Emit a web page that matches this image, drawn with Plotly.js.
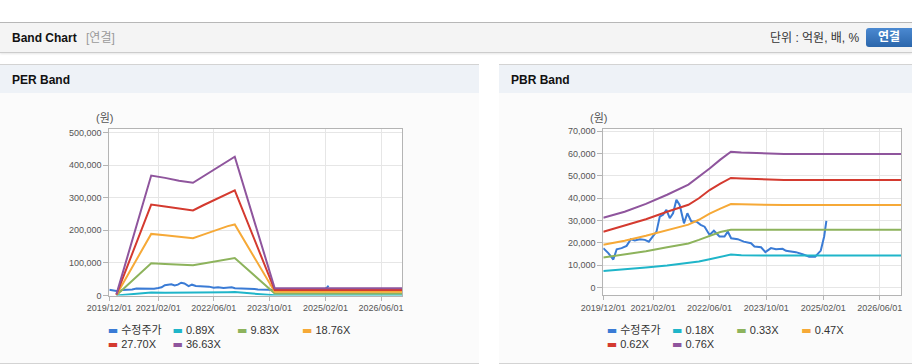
<!DOCTYPE html>
<html>
<head>
<meta charset="utf-8">
<script src="https://cdn.plot.ly/plotly-3.0.1.min.js"></script>
<style>
  body { margin:0; width:912px; height:364px; overflow:hidden; background:#fff; position:relative;
         font-family:'Liberation Sans','Noto Sans CJK KR',sans-serif; }
  .abs { position:absolute; }
  .ptitle { position:absolute; font-weight:bold; font-size:12px; color:#111; line-height:14px; }
</style>
</head>
<body>
<div class="abs" style="left:0;top:22px;width:912px;height:1px;background:#b8b8b8"></div>
<div class="abs" style="left:0;top:23px;width:912px;height:29px;background:#f4f4f4;border-bottom:1px solid #cccccc;box-shadow:0 1px 2px rgba(0,0,0,0.10)"></div>
<div class="ptitle" style="left:12px;top:31px;">Band Chart <span style="color:#9a9a9a;font-weight:normal;margin-left:6px">[연결]</span></div>
<div class="abs" style="left:770px;top:31px;font-size:12px;color:#333;line-height:14px">단위 : 억원, 배, %</div>
<div class="abs" style="left:866px;top:28px;width:50px;height:19px;border-radius:3px;background:linear-gradient(#4b89d1,#2b66ab);color:#fff;font-weight:bold;font-size:12px;line-height:19px;padding-left:12px;box-sizing:border-box">연결</div>

<div class="abs" style="left:0;top:64px;width:479px;height:298px;background:#fbfbfb;border-top:1px solid #d3d3d3;border-bottom:1px solid #d3d3d3"></div>
<div class="abs" style="left:0;top:65px;width:479px;height:28px;background:#eef2f7"></div>
<div class="ptitle" style="left:12px;top:73px;">PER Band</div>

<div class="abs" style="left:499px;top:64px;width:413px;height:298px;background:#fbfbfb;border-top:1px solid #d3d3d3;border-bottom:1px solid #d3d3d3"></div>
<div class="abs" style="left:499px;top:65px;width:413px;height:28px;background:#eef2f7"></div>
<div class="ptitle" style="left:511px;top:73px;">PBR Band</div>

<div id="chart" class="abs" style="left:0;top:0;width:912px;height:364px"></div>

<script>
// ---------- data ----------
const priceDates = ['2019-12-01','2020-01-13','2020-02-25','2020-03-25','2020-05-06','2020-06-18','2020-07-25',
  '2020-08-28','2020-10-10','2020-11-22','2020-12-26','2021-02-01','2021-03-02','2021-03-30','2021-04-27',
  '2021-05-26','2021-06-24','2021-07-22','2021-08-20','2021-09-17','2021-10-24','2021-11-22','2021-12-26',
  '2022-02-07','2022-03-16','2022-04-19','2022-06-01','2022-07-08','2022-08-25','2022-10-07','2022-11-04',
  '2022-12-03','2023-01-29','2023-03-21','2023-05-23','2023-06-21','2023-08-17','2023-09-23','2023-11-10',
  '2023-12-23','2024-02-18','2024-03-18','2024-06-11','2024-08-07','2024-10-03','2024-11-24','2025-01-11',
  '2025-02-09','2025-02-28'];
const priceValues = [17600,15400,12500,17100,17600,18600,21600,21000,21600,21300,20500,22800,25000,31700,32500,
  34700,31000,33200,39200,36900,28700,33200,29500,29500,28000,27200,23500,25400,22800,22800,25000,
  22000,21600,20500,19800,18300,18000,15800,17600,17100,17300,16400,15800,14900,13800,13800,16500,
  22800,29800];

const perBandDates = ['2020-02-01','2020-12-01','2021-04-01','2021-08-01','2021-12-01','2022-03-01',
  '2022-07-01','2022-10-01','2022-12-01','2023-11-15','2026-12-01'];
const perBand089 = [100, 8900, 8800, 8600, 8400, 8900, 9600, 10100, 10400, 530, 530];
const perBand983 = [900, 99000, 97000, 94500, 93000, 98000, 106000, 112000, 115000, 5900, 5900];
const perBand1876 = [1800, 189000, 185000, 180000, 176000, 187000, 202000, 213000, 218000, 11300, 11300];
const perBand2770 = [2700, 279000, 273000, 266000, 261000, 277000, 298000, 314000, 323000, 16600, 16600];
const perBand3663 = [3500, 368000, 361000, 352000, 346000, 366000, 394000, 415000, 426000, 22000, 22000];

const pbrBandDates = ['2019-12-01','2020-06-01','2020-12-01','2021-06-01','2021-12-01','2022-03-01',
  '2022-06-01','2022-09-01','2022-12-01','2023-03-01','2023-09-01','2024-03-01','2026-12-01'];
const pbrBand018 = [7400, 8000, 8900, 9800, 10800, 11600, 12600, 13500, 14700, 14400, 14300, 14300, 14300];
const pbrBand033 = [13400, 14700, 16200, 18000, 19700, 21300, 23000, 24800, 25800, 25800, 25800, 25800, 25800];
const pbrBand047 = [19100, 20900, 23100, 25700, 28100, 30300, 33000, 35300, 37300, 37200, 36900, 36900, 36900];
const pbrBand062 = [24900, 27600, 30500, 33900, 37000, 39900, 43600, 46500, 49000, 48800, 48500, 48100, 48100];
const pbrBand076 = [31200, 33900, 37400, 41500, 46000, 49500, 53200, 57200, 60700, 60400, 59900, 59700, 59700];

const perNames = ['수정주가','0.89X','9.83X','18.76X','27.70X','36.63X'];
const pbrNames = ['수정주가','0.18X','0.33X','0.47X','0.62X','0.76X'];
const xTickVals = ['2019-12-01','2021-02-01','2022-06-01','2023-10-01','2025-02-01','2026-06-01'];
const xTickText = ['2019/12/01','2021/02/01','2022/06/01','2023/10/01','2025/02/01','2026/06/01'];
const perYTicks = [0,100000,200000,300000,400000,500000];
const pbrYTicks = [0,10000,20000,30000,40000,50000,60000,70000];
const unitLabel = '(원)';

// ---------- style ----------
const colors = ['#3a7bd5','#1fb5c9','#8db35c','#f6a937','#d43a2f','#8f559d'];
const W = 912, H = 364;
const FONT = 'Liberation Sans, Noto Sans CJK KR, sans-serif';

const perSeries = [[priceDates, priceValues],[perBandDates, perBand089],[perBandDates, perBand983],
  [perBandDates, perBand1876],[perBandDates, perBand2770],[perBandDates, perBand3663]];
const pbrSeries = [[priceDates, priceValues],[pbrBandDates, pbrBand018],[pbrBandDates, pbrBand033],
  [pbrBandDates, pbrBand047],[pbrBandDates, pbrBand062],[pbrBandDates, pbrBand076]];

const traces = [];
perSeries.forEach((s, i) => traces.push({x:s[0], y:s[1], xaxis:'x', yaxis:'y', mode:'lines', type:'scatter',
  line:{color:colors[i], width:2}, showlegend:false, hoverinfo:'skip'}));
pbrSeries.forEach((s, i) => traces.push({x:s[0], y:s[1], xaxis:'x2', yaxis:'y2', mode:'lines', type:'scatter',
  line:{color:colors[i], width:2}, showlegend:false, hoverinfo:'skip'}));

// legend entries (one legend per entry, positioned like the reference grid)
const perLegPos = [[107.7,330],[172.5,330],[237,330],[302,330],[107.7,343.3],[172.5,343.3]];
const pbrLegPos = [[606.7,330],[672,330],[736.3,330],[801.3,330],[606.7,343.3],[672,343.3]];
const layoutLegends = {};
let li = 0;
function addLegend(name, color, pos) {
  li++;
  const key = li === 1 ? 'legend' : 'legend' + li;
  traces.push({x:[null], y:[null], xaxis:'x', yaxis:'y', mode:'lines', type:'scatter',
    line:{color:'rgba(0,0,0,0)', width:0}, showlegend:true, legend:key, hoverinfo:'skip',
    name:'<span style="color:' + color + ';font-family:DejaVu Sans">▬</span> ' + name});
  layoutLegends[key] = {xref:'container', yref:'container', x:(pos[0]-40)/W, y:1-pos[1]/H,
    xanchor:'left', yanchor:'middle', bgcolor:'rgba(0,0,0,0)', borderwidth:0, itemwidth:30,
    font:{family:FONT, size:11, color:'#333'}, itemclick:false, itemdoubleclick:false};
}
perNames.forEach((n, i) => addLegend(n, colors[i], perLegPos[i]));
pbrNames.forEach((n, i) => addLegend(n, colors[i], pbrLegPos[i]));

function xAxis(x0, x1, anchor) {
  return {domain:[x0/W, x1/W], anchor:anchor, type:'date', range:['2019-12-01','2026-12-01'],
    tickmode:'array', tickvals:xTickVals, ticktext:xTickText, tickangle:0, showgrid:true, gridcolor:'#e6e6e6',
    showline:true, linecolor:'#b4b4b4', mirror:true, ticks:'outside', ticklen:4, tickcolor:'#b4b4b4',
    zeroline:false, tickfont:{family:FONT, size:9, color:'#555'}, fixedrange:true, automargin:false};
}
function yAxis(top, bottom, anchor, range, ticks) {
  return {domain:[1-bottom/H, 1-top/H], anchor:anchor, range:range, tickmode:'array', tickvals:ticks,
    tickformat:',d', showgrid:true, gridcolor:'#e6e6e6', showline:true, linecolor:'#b4b4b4', mirror:true,
    ticks:'outside', ticklen:5, tickcolor:'#b4b4b4', zeroline:false,
    tickfont:{family:FONT, size:9, color:'#555'}, fixedrange:true, automargin:false};
}

const layout = Object.assign({
  width:W, height:H, margin:{l:0,r:0,t:0,b:0,pad:0,autoexpand:false}, autosize:false,
  paper_bgcolor:'rgba(0,0,0,0)', plot_bgcolor:'#ffffff',
  font:{family:FONT, size:9, color:'#555'},
  xaxis: xAxis(109.3, 402, 'y'),
  yaxis: yAxis(129, 295.5, 'x', [0, 511000], perYTicks),
  xaxis2: xAxis(603.3, 901, 'y2'),
  yaxis2: yAxis(129, 295.3, 'x2', [-3500, 70900], pbrYTicks),
  annotations:[
    {text:unitLabel, xref:'paper', yref:'paper', x:104/W, y:1-117.7/H, showarrow:false,
     font:{family:FONT, size:11, color:'#555'}, xanchor:'center', yanchor:'middle'},
    {text:unitLabel, xref:'paper', yref:'paper', x:598.5/W, y:1-118/H, showarrow:false,
     font:{family:FONT, size:11, color:'#555'}, xanchor:'center', yanchor:'middle'}
  ],
  hovermode:false
}, layoutLegends);

Plotly.newPlot('chart', traces, layout, {displayModeBar:false, staticPlot:true});
</script>
</body>
</html>
